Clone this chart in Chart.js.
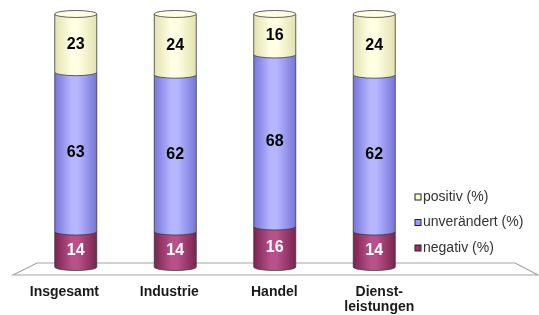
<!DOCTYPE html>
<html>
<head>
<meta charset="utf-8">
<script src="https://cdn.jsdelivr.net/npm/chart.js@4/dist/chart.umd.min.js"></script>
<style>
    html, body { margin: 0; padding: 0; background: #ffffff; }
    #wrap { width: 539px; height: 315px; }
</style>
</head>
<body>
<div id="wrap"><canvas id="idChartStimmung"></canvas></div>
<script>
var aCategories = ['Insgesamt', 'Industrie', 'Handel', ['Dienst-', 'leistungen']];
var aNegativ = [14, 14, 16, 14];
var aUnveraendert = [63, 62, 68, 62];
var aPositiv = [23, 24, 16, 24];
var aSeriesLabels = ['negativ (%)', 'unverändert (%)', 'positiv (%)'];

// base, light and dark shade for each series
var aColors = [
    { base: '#993366', light: '#b8508a', dark: '#7a2450', text: '#ffffff' },
    { base: '#9999ff', light: '#b6b6ff', dark: '#7676da', text: '#000000' },
    { base: '#ffffcc', light: '#ffffe4', dark: '#e2e2b0', text: '#000000' }
];

var RY = 3.5;

function makeGradient(ctx, x0, x1, oCol) {
    var g = ctx.createLinearGradient(x0, 0, x1, 0);
    g.addColorStop(0, oCol.dark);
    g.addColorStop(0.4, oCol.light);
    g.addColorStop(0.55, oCol.light);
    g.addColorStop(1, oCol.dark);
    return g;
}

// floor under the bars
var floorPlugin = {
    id: 'floor',
    beforeDatasetsDraw: function (chart) {
        var ctx = chart.ctx;
        var yBase = chart.scales.y.getPixelForValue(0);
        var left = chart.chartArea.left;
        ctx.save();
        ctx.beginPath();
        ctx.moveTo(left - 13, yBase + 8);
        ctx.lineTo(left + 11, yBase - 4);
        ctx.lineTo(chart.width - 24, yBase - 4);
        ctx.lineTo(chart.width - 1, yBase + 8);
        ctx.closePath();
        ctx.fillStyle = '#ffffff';
        ctx.fill();
        ctx.strokeStyle = '#a6a6a6';
        ctx.lineWidth = 1.2;
        ctx.stroke();
        ctx.restore();
    }
};

// cylinders, value labels, category labels and legend
var cylinderPlugin = {
    id: 'cylinder',
    afterDatasetsDraw: function (chart) {
        var ctx = chart.ctx;
        var nSets = chart.data.datasets.length;
        ctx.save();
        for (var d = 0; d < nSets; d++) {
            var meta = chart.getDatasetMeta(d);
            var oCol = aColors[d];
            for (var i = 0; i < meta.data.length; i++) {
                var bar = meta.data[i];
                var w = bar.width;
                var x0 = bar.x - w / 2;
                var x1 = bar.x + w / 2;
                ctx.beginPath();
                ctx.moveTo(x0, bar.y);
                ctx.lineTo(x0, bar.base);
                ctx.ellipse(bar.x, bar.base, w / 2, RY, 0, Math.PI, 0, true);
                ctx.lineTo(x1, bar.y);
                ctx.closePath();
                ctx.fillStyle = makeGradient(ctx, x0, x1, oCol);
                ctx.fill();
                ctx.strokeStyle = '#3a3a3a';
                ctx.lineWidth = 0.8;
                ctx.beginPath();
                ctx.moveTo(x0, bar.y);
                ctx.lineTo(x0, bar.base);
                ctx.ellipse(bar.x, bar.base, w / 2, RY, 0, Math.PI, 0, true);
                ctx.lineTo(x1, bar.y);
                ctx.stroke();
                if (d === nSets - 1) {
                    // top cap
                    ctx.beginPath();
                    ctx.ellipse(bar.x, bar.y, w / 2, RY, 0, 0, Math.PI * 2);
                    ctx.fillStyle = oCol.light;
                    ctx.fill();
                    ctx.stroke();
                }
            }
        }

        // value labels
        ctx.font = 'bold 16px "Liberation Sans", Arial, sans-serif';
        ctx.textAlign = 'center';
        ctx.textBaseline = 'middle';
        for (var d2 = 0; d2 < nSets; d2++) {
            var meta2 = chart.getDatasetMeta(d2);
            for (var j = 0; j < meta2.data.length; j++) {
                var b = meta2.data[j];
                ctx.fillStyle = aColors[d2].text;
                ctx.fillText(chart.data.datasets[d2].data[j], b.x, (b.y + b.base) / 2 + 1);
            }
        }

        // category labels on the front edge of the floor (perspective spread)
        var xScale = chart.scales.x;
        var yBase = chart.scales.y.getPixelForValue(0);
        var xMid = (chart.chartArea.left + chart.width) / 2;
        ctx.font = 'bold 14px "Liberation Sans", Arial, sans-serif';
        ctx.fillStyle = '#1a1a1a';
        for (var c = 0; c < chart.data.labels.length; c++) {
            var px = xScale.getPixelForValue(c);
            px = px + (px - xMid) * 0.055;
            var aLines = [].concat(chart.data.labels[c]);
            for (var l = 0; l < aLines.length; l++) {
                ctx.fillText(aLines[l], px, yBase + 25 + l * 15);
            }
        }

        // legend, top item is the last dataset
        var lx = chart.chartArea.right - 9;
        var ly = chart.chartArea.bottom - 70;
        ctx.font = '14px "Liberation Sans", Arial, sans-serif';
        ctx.textAlign = 'left';
        for (var k = nSets - 1; k >= 0; k--) {
            var yy = ly + (nSets - 1 - k) * 25.5;
            ctx.fillStyle = aColors[k].base;
            ctx.fillRect(lx, yy - 3, 6, 6);
            ctx.strokeStyle = '#222222';
            ctx.lineWidth = 1;
            ctx.strokeRect(lx, yy - 3, 6, 6);
            ctx.fillStyle = '#333333';
            ctx.fillText(chart.data.datasets[k].label, lx + 8, yy);
        }
        ctx.restore();
    }
};

function initChartStimmung() {
    var aSeries = [aNegativ, aUnveraendert, aPositiv];
    var aDatasets = [];
    for (var i = 0; i < aSeries.length; i++) {
        aDatasets.push({
            label: aSeriesLabels[i],
            data: aSeries[i],
            backgroundColor: 'rgba(0,0,0,0)',
            borderWidth: 0,
            barThickness: 42
        });
    }

    const config = {
        type: 'bar',
        data: {
            labels: aCategories,
            datasets: aDatasets
        },
        options: {
            responsive: true,
            maintainAspectRatio: false,
            animation: false,
            layout: {
                padding: { left: 26, right: 115, top: 14, bottom: 48 }
            },
            plugins: {
                legend: { display: false },
                tooltip: { enabled: false }
            },
            scales: {
                x: {
                    stacked: true,
                    display: false
                },
                y: {
                    stacked: true,
                    display: false,
                    min: 0,
                    max: 100
                }
            }
        },
        plugins: [floorPlugin, cylinderPlugin]
    };

    const oChart = new Chart(document.getElementById('idChartStimmung'), config);
}

initChartStimmung();
</script>
</body>
</html>
